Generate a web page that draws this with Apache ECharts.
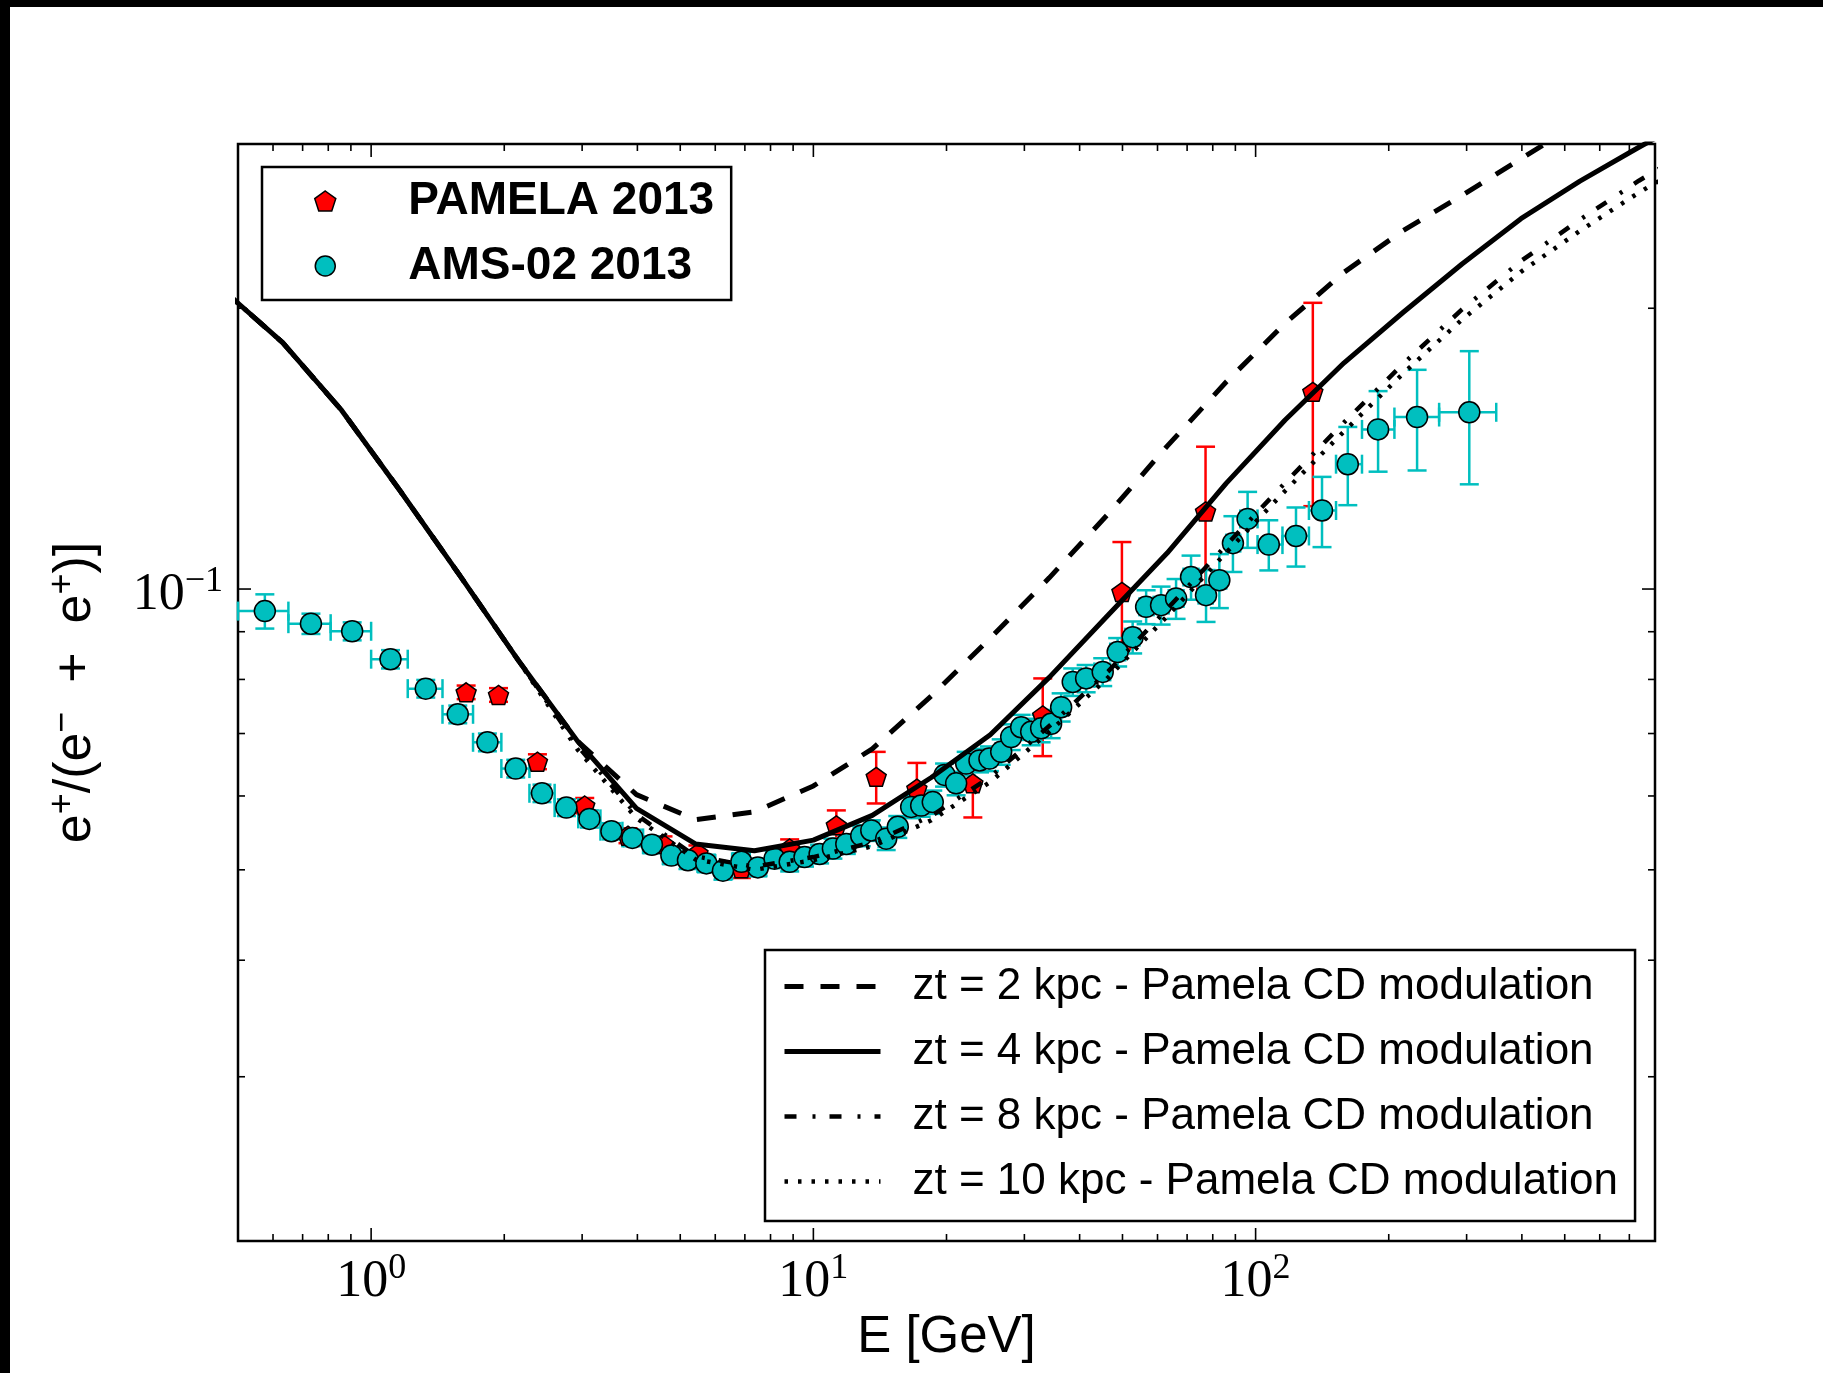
<!DOCTYPE html>
<html>
<head>
<meta charset="utf-8">
<script src="https://cdn.jsdelivr.net/npm/echarts@6.0.0/dist/echarts.min.js"></script>
<style>
html,body{margin:0;padding:0;background:#fff;}
#chart{width:1823px;height:1373px;}
</style>
</head>
<body>
<div id="chart"></div>
<script>
// ---------- model curves (energy grid in GeV, positron fraction) ----------
const curveE = [0.464, 0.631, 0.858, 1.166, 1.585, 2.154, 2.929, 3.981, 5.412, 7.356, 10.0, 13.59, 18.48, 25.12, 34.15, 46.42, 63.10, 85.77, 116.6, 158.5, 215.4, 292.9, 398.1, 541.2, 735.6, 1000];
const zt2  = [0.209, 0.1837, 0.1554, 0.1272, 0.1035, 0.0838, 0.0687, 0.0602, 0.0566, 0.0577, 0.0615, 0.0674, 0.0768, 0.0886, 0.1028, 0.1204, 0.1423, 0.1667, 0.1927, 0.2186, 0.2422, 0.2642, 0.2893, 0.3163, 0.340, 0.365];
const zt4  = [0.209, 0.1837, 0.1554, 0.1272, 0.1035, 0.0838, 0.0687, 0.0582, 0.0533, 0.0524, 0.0538, 0.0572, 0.0628, 0.0698, 0.0804, 0.0938, 0.1093, 0.1298, 0.1518, 0.1748, 0.1979, 0.2231, 0.2495, 0.2737, 0.2976, 0.3223];
const zt8  = [0.209, 0.1837, 0.1554, 0.1272, 0.1035, 0.0838, 0.0679, 0.0573, 0.0517, 0.0504, 0.0516, 0.0535, 0.0571, 0.0629, 0.0713, 0.0816, 0.0952, 0.1114, 0.1300, 0.1509, 0.1743, 0.1994, 0.2247, 0.2489, 0.2740, 0.2988];
const zt10 = [0.209, 0.1837, 0.1554, 0.1272, 0.1035, 0.0838, 0.0673, 0.0568, 0.0513, 0.0500, 0.0512, 0.0530, 0.0565, 0.0621, 0.0703, 0.0804, 0.0935, 0.1094, 0.1274, 0.1476, 0.1702, 0.1945, 0.2188, 0.2421, 0.2661, 0.2897];
const curveNames = ['zt = 2 kpc - Pamela CD modulation', 'zt = 4 kpc - Pamela CD modulation', 'zt = 8 kpc - Pamela CD modulation', 'zt = 10 kpc - Pamela CD modulation'];

// ---------- PAMELA 2013 ----------
const pamE   = [1.640, 1.941, 2.377, 3.041, 3.809, 4.571, 5.483, 6.874, 8.838, 11.27, 13.87, 17.14, 22.94, 33.01, 49.85, 77.05, 134.7];
const pamR   = [0.0775, 0.0770, 0.0653, 0.0586, 0.0544, 0.0533, 0.0521, 0.0502, 0.0527, 0.0558, 0.0629, 0.0611, 0.0619, 0.0732, 0.0993, 0.1211, 0.1627];
const pamErr = [0.0013, 0.0013, 0.0012, 0.0011, 0.0010, 0.0010, 0.0010, 0.0012, 0.0012, 0.0021, 0.0040, 0.0040, 0.0050, 0.0070, 0.0130, 0.0210, 0.0400];

// ---------- AMS-02 2013 ----------
const amsE = [0.575, 0.731, 0.906, 1.106, 1.329, 1.570, 1.832, 2.123, 2.434, 2.764,
              3.116, 3.494, 3.897, 4.315, 4.774, 5.205, 5.728, 6.245, 6.874, 7.49,
              8.17, 8.84, 9.55, 10.33, 11.07, 11.87, 12.83, 13.52, 14.61, 15.52,
              16.64, 17.53, 18.62, 19.80, 21.03, 22.16, 23.75, 25.01, 26.59, 28.01,
              29.50, 31.08, 32.73, 34.48, 36.33, 38.59, 41.38, 45.11, 48.76, 52.72,
              56.55, 61.13, 66.09, 71.45, 77.25, 82.79, 88.86, 95.92, 107.1, 123.4,
              141.3, 161.6, 189.2, 231.8, 304.2];
const amsR = [0.0947, 0.0918, 0.0901, 0.0841, 0.0782, 0.0734, 0.0685, 0.0642, 0.0604, 0.0583,
              0.0567, 0.0550, 0.0541, 0.0532, 0.0518, 0.0512, 0.0508, 0.0499, 0.0510, 0.0503,
              0.0514, 0.0510, 0.0516, 0.0520, 0.0527, 0.0533, 0.0544, 0.0551, 0.0540, 0.0556,
              0.0584, 0.0586, 0.0591, 0.0632, 0.0619, 0.0650, 0.0655, 0.0658, 0.0669, 0.0694,
              0.0711, 0.0703, 0.0709, 0.0717, 0.0747, 0.0795, 0.0802, 0.0815, 0.0856, 0.0888,
              0.0957, 0.0961, 0.0977, 0.1030, 0.0985, 0.1022, 0.1120, 0.1189, 0.1116, 0.1140,
              0.1214, 0.1361, 0.1483, 0.1529, 0.1547];
const amsErr = [0.0040, 0.0023, 0.0020, 0.0019, 0.0017, 0.0016, 0.0015, 0.0014, 0.0013, 0.0012,
                0.0012, 0.0011, 0.0011, 0.0011, 0.0011, 0.0011, 0.0011, 0.0011, 0.0011, 0.0011,
                0.0012, 0.0012, 0.0012, 0.0012, 0.0013, 0.0013, 0.0014, 0.0014, 0.0015, 0.0015,
                0.0016, 0.0016, 0.0017, 0.0018, 0.0018, 0.0019, 0.0019, 0.0020, 0.0021, 0.0022,
                0.0022, 0.0023, 0.0024, 0.0025, 0.0026, 0.0027, 0.0027, 0.0028, 0.0030, 0.0035,
                0.0040, 0.0045, 0.0048, 0.0056, 0.0063, 0.0068, 0.0077, 0.0082, 0.0069, 0.0083,
                0.0105, 0.0131, 0.0147, 0.0189, 0.0252];
const amsEdges = [0.5, 0.65, 0.81, 1.0, 1.21, 1.45, 1.7, 1.97, 2.28, 2.6,
                  2.94, 3.3, 3.7, 4.12, 4.57, 5.0, 5.47, 6.0, 6.55, 7.18,
                  7.82, 8.5, 9.19, 9.93, 10.7, 11.46, 12.34, 13.17, 14.05, 15.06,
                  16.07, 17.08, 18.07, 19.2, 20.41, 21.59, 22.94, 24.37, 25.79, 27.29,
                  28.74, 30.28, 31.89, 33.59, 35.39, 37.44, 39.96, 43.2, 46.9, 50.7,
                  54.6, 58.8, 63.6, 68.7, 74.3, 80.0, 85.8, 92.3, 101, 115,
                  132, 152, 174, 206, 260, 350];

// ---------- ticks ----------
const xMajorTicks = [1, 10, 100];
const xMinorTicks = [0.6, 0.7, 0.8, 0.9, 2, 3, 4, 5, 6, 7, 8, 9, 20, 30, 40, 50, 60, 70, 80, 90, 200, 300, 400, 500, 600, 700];
const yMajorTicks = [0.1];
const yMinorTicks = [0.03, 0.04, 0.05, 0.06, 0.07, 0.08, 0.09, 0.2];

// ---------- chart ----------
const chart = echarts.init(document.getElementById('chart'), null, {renderer: 'canvas'});
const PENTAGON = 'path://M50 0 L97.55 34.55 L79.39 90.45 L20.61 90.45 L2.45 34.55 Z';
const RED = '#ff0000', CYAN = '#00bfbf';
const SERIF = '"Liberation Serif", "DejaVu Serif", serif';
const SANS = '"Liberation Sans", Arial, sans-serif';
const DASHES = [[19, 17], 'solid', [12, 16, 3, 14], [3.5, 10]];
const WIDTHS = [5, 5, 4.5, 4.5];

function isPow10(v) { const l = Math.log10(v); return Math.abs(l - Math.round(l)) < 1e-6; }
function powLabel(v) {
  const n = Math.round(Math.log10(v));
  return '{b|10}{s|' + String(n).replace('-', '\u2212') + '}';
}
const tickRich = {
  b: {fontFamily: SERIF, fontSize: 52, lineHeight: 62, color: '#000'},
  s: {fontFamily: SERIF, fontSize: 36, lineHeight: 36, verticalAlign: 'top', color: '#000'}
};

function curve(i, vals) {
  return {
    name: curveNames[i], type: 'line', data: curveE.map((e, k) => [e, vals[k]]),
    symbol: 'none', showSymbol: false, clip: true, silent: true, smooth: false,
    lineStyle: {color: '#000', width: WIDTHS[i], type: DASHES[i], cap: 'butt', join: 'round'},
    itemStyle: {color: '#000'}, emphasis: {disabled: true}
  };
}

function errSeries(name, data, color, withX) {
  return {
    name: name, type: 'custom', silent: true, data: data, encode: {x: 0, y: 1},
    renderItem: function (params, api) {
      const e = api.value(0), r = api.value(1), lo = api.value(2), hi = api.value(3), s = api.value(4);
      const pt = api.coord([e, r + s]), pb = api.coord([e, r - s]);
      const st = {stroke: color, lineWidth: 2.5, fill: null};
      const cap = 9.5;
      const ch = [
        {type: 'line', shape: {x1: pt[0], y1: pt[1], x2: pb[0], y2: pb[1]}, style: st},
        {type: 'line', shape: {x1: pt[0] - cap, y1: pt[1], x2: pt[0] + cap, y2: pt[1]}, style: st},
        {type: 'line', shape: {x1: pb[0] - cap, y1: pb[1], x2: pb[0] + cap, y2: pb[1]}, style: st}
      ];
      if (withX) {
        const pl = api.coord([lo, r]), ph = api.coord([hi, r]);
        ch.push({type: 'line', shape: {x1: pl[0], y1: pl[1], x2: ph[0], y2: ph[1]}, style: st});
        ch.push({type: 'line', shape: {x1: pl[0], y1: pl[1] - cap, x2: pl[0], y2: pl[1] + cap}, style: st});
        ch.push({type: 'line', shape: {x1: ph[0], y1: ph[1] - cap, x2: ph[0], y2: ph[1] + cap}, style: st});
      }
      return {type: 'group', children: ch};
    }
  };
}

const tickData = []
  .concat(xMajorTicks.map(v => [v, 0.1, 1]))
  .concat(xMinorTicks.map(v => [v, 0.1, 0]))
  .concat(yMajorTicks.map(v => [1, v, 3]))
  .concat(yMinorTicks.map(v => [1, v, 2]));

const option = {
  animation: false,
  backgroundColor: '#fff',
  graphic: [
    {type: 'rect', shape: {x: 0, y: 0, width: 1823, height: 7}, style: {fill: '#000'}, silent: true},
    {type: 'rect', shape: {x: 0, y: 0, width: 10, height: 1373}, style: {fill: '#000'}, silent: true}
  ],
  grid: {left: 238, top: 144, width: 1417, height: 1097, show: true, borderColor: '#000', borderWidth: 2.5, backgroundColor: 'transparent', containLabel: false},
  xAxis: {
    type: 'log', logBase: 10, min: 0.5, max: 800,
    axisLine: {show: false}, axisTick: {show: false}, splitLine: {show: false}, minorTick: {show: false},
    axisLabel: {formatter: v => isPow10(v) ? powLabel(v) : '', margin: 10, rich: tickRich, showMinLabel: true, showMaxLabel: true},
    name: 'E [GeV]', nameLocation: 'middle', nameGap: 71, nameMoveOverlap: false,
    nameTextStyle: {fontFamily: SANS, fontSize: 51, lineHeight: 51, color: '#000'}
  },
  yAxis: {
    type: 'log', logBase: 10, min: 0.02, max: 0.3,
    axisLine: {show: false}, axisTick: {show: false}, splitLine: {show: false}, minorTick: {show: false},
    axisLabel: {formatter: v => isPow10(v) ? powLabel(v) : '', margin: 15, rich: tickRich, padding: [12, 0, 0, 0]},
    name: '{n|e}{s|+}{n|/(e}{s|\u2212}{n|  +  e}{s|+}{n|)]}',
    nameLocation: 'middle', nameGap: 131, nameRotate: 90, nameMoveOverlap: false,
    nameTextStyle: {rich: {
      n: {fontFamily: SANS, fontSize: 52, lineHeight: 62, color: '#000'},
      s: {fontFamily: SANS, fontSize: 36, lineHeight: 36, verticalAlign: 'top', color: '#000'}
    }}
  },
  legend: [
    {
      data: ['PAMELA 2013', 'AMS-02 2013'], orient: 'vertical', left: 262, top: 167,
      padding: [11, 17, 11, 52], itemWidth: 60, itemHeight: 20, itemGap: 19,
      backgroundColor: '#fff', borderColor: '#000', borderWidth: 2.5, borderRadius: 0,
      selectedMode: false, itemStyle: {borderColor: '#000', borderWidth: 1.5},
      textStyle: {fontFamily: SANS, fontWeight: 'bold', fontSize: 46, lineHeight: 46, color: '#000', padding: [0, 0, 0, 48]}
    },
    {
      data: curveNames.map((n, i) => ({name: n, lineStyle: {color: '#000', width: WIDTHS[i], type: DASHES[i], cap: 'butt', opacity: 1}})),
      orient: 'vertical', left: 765, top: 950,
      padding: [14.5, 17, 17.5, 17], itemWidth: 96, itemHeight: 20, itemGap: 21,
      backgroundColor: '#fff', borderColor: '#000', borderWidth: 2.5, borderRadius: 0,
      selectedMode: false,
      itemStyle: {color: 'rgba(0,0,0,0)', borderColor: 'rgba(0,0,0,0)', borderWidth: 0, opacity: 0},
      textStyle: {fontFamily: SANS, fontSize: 44, lineHeight: 43, color: '#000', padding: [0, 0, 0, 27]}
    }
  ],
  series: [
    curve(0, zt2),
    curve(1, zt4),
    errSeries('PAMELA err', pamE.map((e, i) => [e, pamR[i], e, e, pamErr[i]]), RED, false),
    {
      name: 'PAMELA 2013', type: 'scatter', silent: true,
      data: pamE.map((e, i) => [e, pamR[i]]),
      symbol: PENTAGON, symbolSize: 20, symbolKeepAspect: true,
      itemStyle: {color: RED, borderColor: '#000', borderWidth: 1.5, opacity: 1}
    },
    errSeries('AMS err', amsE.map((e, i) => [e, amsR[i], amsEdges[i], amsEdges[i + 1], amsErr[i]]), CYAN, true),
    {
      name: 'AMS-02 2013', type: 'scatter', silent: true,
      data: amsE.map((e, i) => [e, amsR[i]]),
      symbol: 'circle', symbolSize: 21,
      itemStyle: {color: CYAN, borderColor: '#000', borderWidth: 1.5, opacity: 1}
    },
    curve(2, zt8),
    curve(3, zt10),
    {
      name: 'ticks', type: 'custom', silent: true, data: tickData, encode: {x: 0, y: 1}, z: 10,
      renderItem: function (params, api) {
        const cs = params.coordSys;
        const kind = api.value(2);
        const p = api.coord([api.value(0), api.value(1)]);
        const len = (kind === 1 || kind === 3) ? 13 : 7;
        const st = {stroke: '#000', lineWidth: 1.6};
        if (kind < 2) {
          const yb = cs.y + cs.height, yt = cs.y;
          return {type: 'group', children: [
            {type: 'line', shape: {x1: p[0], y1: yb, x2: p[0], y2: yb - len}, style: st},
            {type: 'line', shape: {x1: p[0], y1: yt, x2: p[0], y2: yt + len}, style: st}
          ]};
        }
        const xl = cs.x, xr = cs.x + cs.width;
        return {type: 'group', children: [
          {type: 'line', shape: {x1: xl, y1: p[1], x2: xl + len, y2: p[1]}, style: st},
          {type: 'line', shape: {x1: xr, y1: p[1], x2: xr - len, y2: p[1]}, style: st}
        ]};
      }
    }
  ]
};
chart.setOption(option);
</script>
</body>
</html>
